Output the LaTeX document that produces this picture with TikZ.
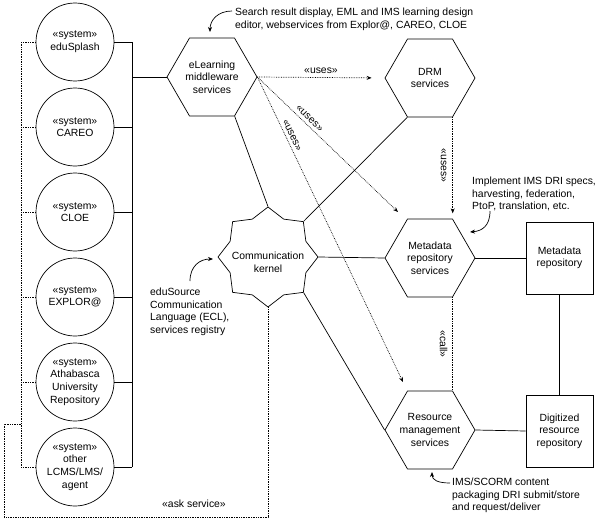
\documentclass[tikz,border=0pt]{standalone}
\usepackage{fontspec}
\setmainfont{Liberation Sans}
\usetikzlibrary{shapes.geometric,arrows.meta,calc}
\begin{document}
\begin{tikzpicture}[x=1pt,y=-1pt,
  font=\fontsize{10.4}{12.6}\selectfont,
  every node/.style={inner sep=0pt},
  ln/.style={line width=0.7pt},
  dt/.style={line width=0.7pt, densely dotted},
  sys/.style={circle, draw, line width=0.7pt, minimum size=78pt, align=center},
  hex/.style={regular polygon, regular polygon sides=6, draw, line width=0.7pt, minimum size=90pt},
  kern/.style={star, star points=8, star point ratio=1.22, draw, line width=0.7pt, minimum size=100pt},
  box/.style={rectangle, draw, line width=0.7pt, minimum width=67pt, minimum height=72pt, align=center},
  txt/.style={align=center},
  note/.style={align=left, anchor=north west},
  arr/.style={-{Stealth[length=5pt,width=4pt]}},
  carr/.style={line width=0.7pt, -{Stealth[length=5pt,width=4pt]}},
]
\useasboundingbox (0,0) rectangle (598,522);

% left systems
\node[sys] (es) at (75,42)  {«system»\\eduSplash};
\node[sys] (ca) at (75,127) {«system»\\CAREO};
\node[sys] (cl) at (75,212) {«system»\\CLOE};
\node[sys] (ex) at (75,297) {«system»\\EXPLOR@};
\node[sys] (au) at (75,382) {«system»\\Athabasca\\University\\Repository};
\node[sys] (ot) at (75,467) {«system»\\other\\LCMS/LMS/\\agent};

% services
\node[hex] (el) at (212,77) {};
\node[txt] (elt) at (el) {eLearning\\middleware\\services};
\node[hex] (drm) at (430,78) {};
\node[txt] (drmt) at (drm) {DRM\\services};
\node[hex] (md) at (430,258) {};
\node[txt] (mdt) at (md) {Metadata\\repository\\services};
\node[hex] (rm) at (430,430) {};
\node[txt] (rmt) at (rm) {Resource\\management\\services};

% kernel
\node[kern] (k) at (268,257) {};
\node[txt] (kt) at (268,262) {Communication\\kernel};

% repositories
\node[box] (mr) at (559.5,258) {Metadata\\repository};
\node[box] (dr) at (559.5,431) {Digitized\\resource\\repository};

% solid bus
\coordinate (bx) at (132,0);
\foreach \n in {es,ca,cl,ex,au,ot} \draw[ln] (\n) -- (\n -| bx);
\draw[ln] (es -| bx) -- (ot -| bx);
\draw[ln] (el.180) -- (el.180 -| bx);

% solid links
\draw[ln] (el.-60) -- (k.90);
\draw[ln] (drm.-120) -- (k.45);
\draw[ln] (k.0) -- (md.180);
\draw[ln] (k.-45) -- (rm.180);
\draw[ln] (md.0) -- (mr.west);
\draw[ln] (rm.0) -- (dr.west);
\draw[ln] (mr.south) -- (dr.north);

% dotted bus and ask service
\coordinate (dx) at (21,0);
\foreach \n in {es,ca,cl,ex,au,ot} \draw[dt] (\n) -- (\n -| dx);
\draw[dt] (es -| dx) -- (ot -| dx);
\coordinate (a1) at (21,424);
\coordinate (a2) at (4,424);
\coordinate (a3) at (4,517);
\draw[dt] (a1) -- (a2) -- (a3) -- (k.-90 |- a3) -- (k.-90);
\node (askl) at (194,504) {«ask service»};

% uses arrows
\coordinate (mdin) at (398,212);
\coordinate (rmin) at (403,382);
\draw[dt, arr, shorten >=13pt] (el.0) -- (drm.180) node[midway, above=4pt] (u1) {«uses»};
\draw[dt, arr] (el.0) -- (mdin) node[pos=0.34, sloped, above=3pt] (u2) {«uses»};
\draw[dt, arr] (el.0) -- (rmin) node[pos=0.2, sloped, above=3pt] (u3) {«uses»};
\draw[dt, arr] (drm.-60) -- ++(0,96) node[midway, rotate=-90, anchor=north, inner sep=6pt] (u4) {«uses»};
\draw[dt] (md.-60) -- (rm.60) node[midway, rotate=-90, anchor=north, inner sep=5pt] (c1) {«call»};

% notes
\node[note] (n1) at (235,8) {Search result display, EML and IMS learning design\\editor, webservices from Explor@, CAREO, CLOE};
\node[note] (n2) at (472,177) {Implement IMS DRI specs,\\harvesting, federation,\\PtoP, translation, etc.};
\node[note] (n3) at (150,288) {eduSource\\Communication\\Language (ECL),\\services registry};
\node[note] (n4) at (452,478) {IMS/SCORM content\\packaging DRI submit/store\\and request/deliver};

\coordinate (s1) at (232,11);
\coordinate (e1) at (210,32);
\draw[carr] (s1) .. controls (218,11) and (210,20) .. (e1);
\coordinate (s2) at (490,211);
\coordinate (e2) at (470,232);
\draw[carr] (s2) .. controls (490,226) and (482,231) .. (e2);
\coordinate (s3) at (190,281);
\coordinate (e3) at (213,259);
\draw[carr] (s3) .. controls (190,266) and (200,259) .. (e3);
\coordinate (s4) at (450,483);
\coordinate (e4) at (432,472);
\draw[carr] (s4) .. controls (438,483) and (432,480) .. (e4);
\end{tikzpicture}
\end{document}
